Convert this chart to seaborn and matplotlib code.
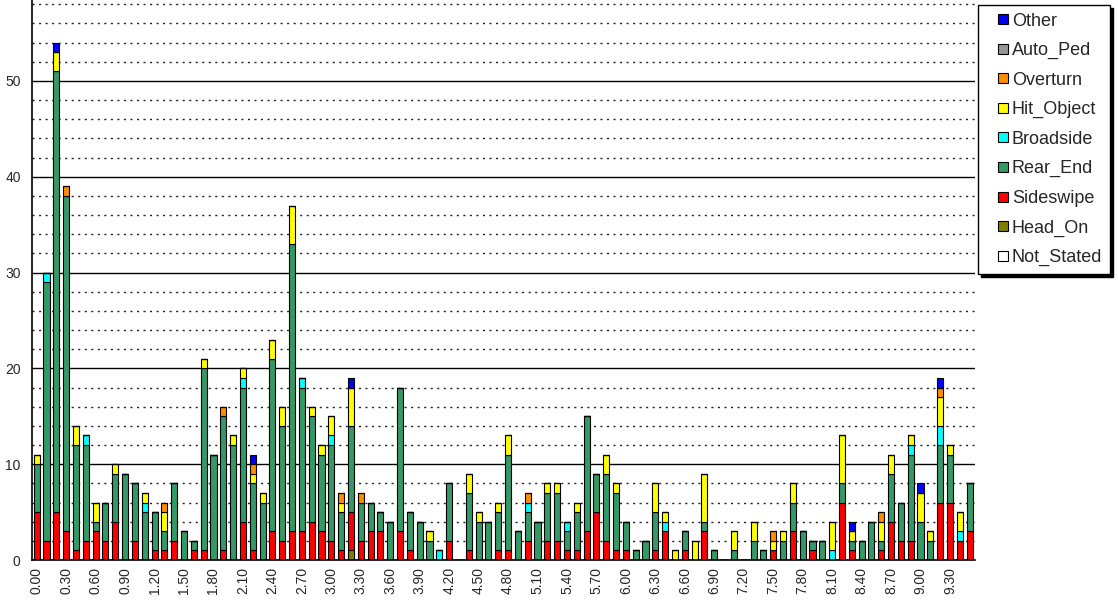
import numpy as np
import pandas as pd
import matplotlib
matplotlib.use("Agg")
import matplotlib.pyplot as plt
from matplotlib.lines import Line2D
import seaborn as sns

# postmile categories (one bar each)
postmile = [
    "0.00", "0.10", "0.20", "0.30", "0.40", "0.50", "0.60", "0.70", "0.80", "0.90",
    "1.00", "1.10", "1.20", "1.30", "1.40", "1.50", "1.60", "1.70", "1.80", "1.90",
    "2.00", "2.10", "2.20", "2.30", "2.40", "2.50", "2.60", "2.70", "2.80", "2.90",
    "3.00", "3.10", "3.20", "3.30", "3.40", "3.50", "3.60", "3.70", "3.80", "3.90",
    "4.00", "4.10", "4.20", "4.30", "4.40", "4.50", "4.60", "4.70", "4.80", "4.90",
    "5.00", "5.10", "5.20", "5.30", "5.40", "5.50", "5.60", "5.70", "5.80", "5.90",
    "6.00", "6.10", "6.20", "6.30", "6.40", "6.50", "6.60", "6.70", "6.80", "6.90",
    "7.00", "7.10", "7.20", "7.30", "7.40", "7.50", "7.60", "7.70", "7.80", "7.90",
    "8.00", "8.10", "8.20", "8.30", "8.40", "8.50", "8.60", "8.70", "8.80", "8.90",
    "9.00", "9.10", "9.20", "9.30", "9.40", "9.50",
]

# collision counts by type
not_stated = [0] * 96

head_on = [
    0, 0, 0, 0, 0, 0, 0, 0, 0, 0,
    0, 0, 0, 0, 0, 0, 0, 0, 0, 0,
    0, 0, 0, 0, 0, 0, 0, 0, 0, 0,
    0, 0, 1, 0, 0, 0, 0, 0, 0, 0,
    0, 0, 0, 0, 0, 0, 0, 0, 0, 0,
    0, 0, 0, 0, 0, 0, 0, 0, 0, 0,
    0, 0, 0, 0, 0, 0, 0, 0, 0, 0,
    0, 0, 0, 0, 0, 0, 0, 0, 0, 0,
    0, 0, 0, 0, 0, 0, 0, 0, 0, 0,
    0, 0, 0, 0, 0, 0,
]

sideswipe = [
    5, 2, 5, 3, 1, 2, 3, 2, 4, 0,
    2, 0, 1, 1, 2, 0, 1, 1, 0, 1,
    0, 4, 1, 0, 3, 2, 3, 3, 4, 3,
    2, 1, 4, 2, 3, 3, 0, 3, 1, 0,
    0, 0, 2, 0, 1, 0, 0, 1, 1, 0,
    2, 0, 2, 2, 1, 1, 3, 5, 2, 1,
    1, 0, 0, 1, 3, 0, 1, 0, 3, 0,
    0, 0, 0, 0, 0, 1, 0, 3, 0, 1,
    0, 0, 6, 1, 0, 0, 1, 4, 2, 2,
    0, 0, 6, 6, 2, 3,
]

rear_end = [
    5, 27, 46, 35, 11, 10, 1, 4, 5, 9,
    6, 5, 4, 2, 6, 3, 1, 19, 11, 14,
    12, 14, 7, 6, 18, 12, 30, 15, 11, 8,
    10, 4, 9, 4, 3, 2, 4, 15, 4, 4,
    2, 0, 6, 0, 6, 4, 4, 4, 10, 3,
    3, 4, 5, 5, 2, 4, 12, 4, 7, 6,
    3, 1, 2, 4, 0, 0, 2, 0, 1, 1,
    0, 1, 0, 2, 1, 0, 2, 3, 3, 1,
    2, 0, 2, 1, 2, 4, 1, 5, 4, 9,
    4, 2, 6, 5, 0, 5,
]

broadside = [
    0, 1, 0, 0, 0, 1, 0, 0, 0, 0,
    0, 1, 0, 0, 0, 0, 0, 0, 0, 0,
    0, 1, 0, 0, 0, 0, 0, 1, 0, 0,
    1, 0, 0, 0, 0, 0, 0, 0, 0, 0,
    0, 1, 0, 0, 0, 0, 0, 0, 0, 0,
    1, 0, 0, 0, 1, 0, 0, 0, 0, 0,
    0, 0, 0, 0, 1, 0, 0, 0, 0, 0,
    0, 0, 0, 0, 0, 0, 0, 0, 0, 0,
    0, 1, 0, 0, 0, 0, 0, 0, 0, 1,
    0, 0, 2, 0, 1, 0,
]

hit_object = [
    1, 0, 2, 0, 2, 0, 2, 0, 1, 0,
    0, 1, 0, 2, 0, 0, 0, 1, 0, 0,
    1, 1, 1, 1, 2, 2, 4, 0, 1, 1,
    2, 1, 4, 0, 0, 0, 0, 0, 0, 0,
    1, 0, 0, 0, 2, 1, 0, 1, 2, 0,
    0, 0, 1, 1, 0, 1, 0, 0, 2, 1,
    0, 0, 0, 3, 1, 1, 0, 2, 5, 0,
    0, 2, 0, 2, 0, 1, 1, 2, 0, 0,
    0, 3, 5, 1, 0, 0, 2, 2, 0, 1,
    3, 1, 3, 1, 2, 0,
]

overturn = [
    0, 0, 0, 1, 0, 0, 0, 0, 0, 0,
    0, 0, 0, 1, 0, 0, 0, 0, 0, 1,
    0, 0, 1, 0, 0, 0, 0, 0, 0, 0,
    0, 1, 0, 1, 0, 0, 0, 0, 0, 0,
    0, 0, 0, 0, 0, 0, 0, 0, 0, 0,
    1, 0, 0, 0, 0, 0, 0, 0, 0, 0,
    0, 0, 0, 0, 0, 0, 0, 0, 0, 0,
    0, 0, 0, 0, 0, 1, 0, 0, 0, 0,
    0, 0, 0, 0, 0, 0, 1, 0, 0, 0,
    0, 0, 1, 0, 0, 0,
]

auto_ped = [0] * 96

other = [
    0, 0, 1, 0, 0, 0, 0, 0, 0, 0,
    0, 0, 0, 0, 0, 0, 0, 0, 0, 0,
    0, 0, 1, 0, 0, 0, 0, 0, 0, 0,
    0, 0, 1, 0, 0, 0, 0, 0, 0, 0,
    0, 0, 0, 0, 0, 0, 0, 0, 0, 0,
    0, 0, 0, 0, 0, 0, 0, 0, 0, 0,
    0, 0, 0, 0, 0, 0, 0, 0, 0, 0,
    0, 0, 0, 0, 0, 0, 0, 0, 0, 0,
    0, 0, 0, 1, 0, 0, 0, 0, 0, 0,
    1, 0, 1, 0, 0, 0,
]

# legend order (top of stack first)
types = ["Other", "Auto_Ped", "Overturn", "Hit_Object", "Broadside",
         "Rear_End", "Sideswipe", "Head_On", "Not_Stated"]
counts = {
    "Other": other, "Auto_Ped": auto_ped, "Overturn": overturn,
    "Hit_Object": hit_object, "Broadside": broadside, "Rear_End": rear_end,
    "Sideswipe": sideswipe, "Head_On": head_on, "Not_Stated": not_stated,
}
colores = {
    "Other": "#0000FF", "Auto_Ped": "#969696", "Overturn": "#FF8C00",
    "Hit_Object": "#FFFF00", "Broadside": "#00FFFF", "Rear_End": "#339966",
    "Sideswipe": "#FF0000", "Head_On": "#808000", "Not_Stated": "#FFFFFF",
}

# tabla larga para seaborn
filas = []
for t in types:
    for i, pm in enumerate(postmile):
        filas.append((i, pm, t, counts[t][i]))
df = pd.DataFrame(filas, columns=["idx", "postmile", "type", "n"])

sns.set_style("white")
plt.rcParams["font.family"] = ["Liberation Sans", "DejaVu Sans"]

fig = plt.figure(figsize=(11.18, 6.03), dpi=100)
ax = fig.add_axes([31.8 / 1118, 43 / 603, (974.5 - 31.8) / 1118, 560 / 603])

sns.histplot(data=df, x="idx", weights="n", hue="type", hue_order=types,
             palette=colores, multiple="stack", discrete=True, shrink=0.62,
             alpha=1, edgecolor="black", linewidth=0.8, legend=False, ax=ax)

ax.set_xlim(-0.5, len(postmile) - 0.5)
ax.set_ylim(0, 58.45)
ax.set_xlabel("")
ax.set_ylabel("")

# ejes y rejilla
ax.set_yticks(range(0, 60, 10))
ax.set_yticks([v for v in range(2, 60, 2) if v % 10], minor=True)
ax.yaxis.grid(True, which="major", color="black", linewidth=1.0, linestyle="-")
ax.yaxis.grid(True, which="minor", color="#222222", linewidth=1.0, linestyle=(0, (1.5, 3.2)))
ax.xaxis.grid(False)
ax.set_axisbelow(True)

ax.set_xticks(range(0, len(postmile), 3))
ax.set_xticklabels(postmile[::3], rotation=90, fontsize=10)
ax.set_xticks(np.arange(-0.5, len(postmile), 1), minor=True)
ax.tick_params(axis="x", which="major", length=0, pad=5)
ax.tick_params(axis="x", which="minor", length=4, width=1, color="black", direction="out")
ax.tick_params(axis="y", which="major", length=4, width=1, color="black", labelsize=10, pad=4, direction="out")
ax.tick_params(axis="y", which="minor", length=0)

for s in ["top", "right"]:
    ax.spines[s].set_visible(False)
for s in ["left", "bottom"]:
    ax.spines[s].set_color("black")
    ax.spines[s].set_linewidth(1.2)

# leyenda
handles = [Line2D([], [], marker="s", linestyle="", markersize=6.5,
                  markerfacecolor=colores[t], markeredgecolor="black", markeredgewidth=0.8)
           for t in types]
leg = fig.legend(handles, types, loc="upper left",
                 bbox_to_anchor=(978 / 1118, 1 - 5 / 603), bbox_transform=fig.transFigure,
                 borderaxespad=0, fontsize=13, frameon=True, fancybox=False,
                 shadow={"color": "black", "alpha": 1}, framealpha=1,
                 edgecolor="black", labelspacing=0.69, handlelength=1.9,
                 handletextpad=-0.45, borderpad=0.42)
leg.get_frame().set_linewidth(1.0)

plt.savefig("out.png", dpi=100)
